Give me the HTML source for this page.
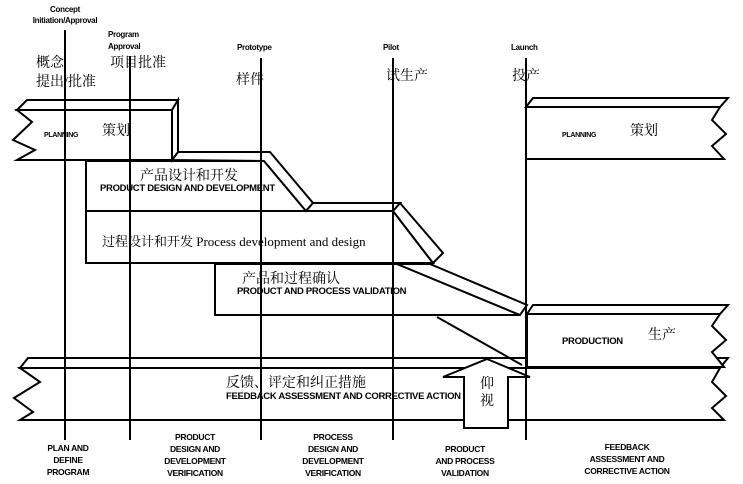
<!DOCTYPE html>
<html><head><meta charset="utf-8"><style>
html,body{margin:0;padding:0;background:#fff;}
svg{display:block;}
.b{font-family:"Liberation Sans",Arial,sans-serif;font-weight:bold;font-size:8px;fill:#000;letter-spacing:-0.3px}
.m{font-family:"Liberation Sans",Arial,sans-serif;font-weight:bold;font-size:9.5px;fill:#000;letter-spacing:-0.3px}
.c{font-family:"Liberation Serif","Noto Serif CJK SC",serif;font-size:14px;fill:#000}
.bl{font-family:"Liberation Sans",Arial,sans-serif;font-weight:bold;font-size:8.5px;fill:#000;text-anchor:middle;letter-spacing:-0.3px}
</style></head><body>
<svg width="743" height="484" viewBox="0 0 743 484" xmlns="http://www.w3.org/2000/svg">
<g fill="#fff" stroke="#000" stroke-width="2" stroke-linejoin="miter">
<polygon points="20,368 28,358 728,358 720,368"/>
<polygon points="20,368 720,368 712,382 726,396 712,408 724,420 20,420 33,412 14,398 40,382"/>
<polygon points="527,314 533,305 728,305 720,314"/>
<polygon points="527,314 720,314 712,326 726,340 712,352 724,367 527,367"/>
<polygon points="526,107 533,98 728,98 720,107"/>
<polygon points="526,107 720,107 712,120 726,134 712,146 724,159 526,159"/>
<polygon points="215,264 397,264 520,315 215,315"/>
<polygon points="397,264 430,264 527,305 520,315"/>
<polygon points="86,211 393,211 433,263 86,263"/>
<polygon points="393,211 400,203 443,253 433,263"/>
<polygon points="86,161 264,161 306,211 86,211"/>
<polygon points="172,160 178,152 270,152 313,203 306,211 264,161"/>
<polygon points="306,211 313,203 400,203 393,211"/>
<polygon points="17,110 27,100 178,100 172,110"/>
<polygon points="172,110 178,100 178,152 172,160"/>
<polygon points="17,110 172,110 172,160 17,160 35,150 13,140 32,122"/>
</g>
<g stroke="#000" stroke-width="2" fill="none">
<line x1="437" y1="317" x2="522" y2="365"/>
<line x1="65" y1="30" x2="65" y2="440"/>
<line x1="130" y1="56" x2="130" y2="440"/>
<line x1="261" y1="58" x2="261" y2="440"/>
<line x1="393" y1="58" x2="393" y2="440"/>
<line x1="526" y1="58" x2="526" y2="440"/>
</g>
<polygon points="487,359 530,377 508,377 508,428 464,428 464,377 443,377" fill="#fff" stroke="#000" stroke-width="2"/>
<text class="c" x="480" y="388">仰</text>
<text class="c" x="480" y="405">视</text>
<text class="b" x="65" y="12" text-anchor="middle">Concept</text>
<text class="b" x="65" y="23" text-anchor="middle">Initiation/Approval</text>
<text class="b" x="108" y="37">Program</text>
<text class="b" x="108" y="49">Approval</text>
<text class="b" x="237" y="50">Prototype</text>
<text class="b" x="383" y="50">Pilot</text>
<text class="b" x="511" y="50">Launch</text>
<text class="c" x="36" y="67">概念</text>
<text class="c" x="36" y="86">提出/批准</text>
<text class="c" x="110" y="67">项目批准</text>
<text class="c" x="236" y="84">样件</text>
<text class="c" x="386" y="80">试生产</text>
<text class="c" x="512" y="80">投产</text>
<text class="b" x="44" y="137" style="font-size:7px">PLANNING</text>
<text class="c" x="102" y="135">策划</text>
<text class="b" x="562" y="137" style="font-size:7px">PLANNING</text>
<text class="c" x="630" y="135">策划</text>
<text class="c" x="140" y="180">产品设计和开发</text>
<text class="m" x="100" y="191">PRODUCT DESIGN AND DEVELOPMENT</text>
<text class="c" x="102" y="246" style="font-size:13px">过程设计和开发 Process development and design</text>
<text class="c" x="242" y="283">产品和过程确认</text>
<text class="m" x="237" y="294">PRODUCT AND PROCESS VALIDATION</text>
<text class="m" x="562" y="344">PRODUCTION</text>
<text class="c" x="648" y="339">生产</text>
<text class="c" x="226" y="387">反馈、评定和纠正措施</text>
<text class="m" x="226" y="399">FEEDBACK ASSESSMENT AND CORRECTIVE ACTION</text>
<text class="bl" x="68" y="451">PLAN AND</text>
<text class="bl" x="68" y="463">DEFINE</text>
<text class="bl" x="68" y="475">PROGRAM</text>
<text class="bl" x="195" y="440">PRODUCT</text>
<text class="bl" x="195" y="452">DESIGN AND</text>
<text class="bl" x="195" y="464">DEVELOPMENT</text>
<text class="bl" x="195" y="476">VERIFICATION</text>
<text class="bl" x="333" y="440">PROCESS</text>
<text class="bl" x="333" y="452">DESIGN AND</text>
<text class="bl" x="333" y="464">DEVELOPMENT</text>
<text class="bl" x="333" y="476">VERIFICATION</text>
<text class="bl" x="465" y="452">PRODUCT</text>
<text class="bl" x="465" y="464">AND PROCESS</text>
<text class="bl" x="465" y="476">VALIDATION</text>
<text class="bl" x="627" y="450">FEEDBACK</text>
<text class="bl" x="627" y="462">ASSESSMENT AND</text>
<text class="bl" x="627" y="474">CORRECTIVE ACTION</text>
</svg>
</body></html>
